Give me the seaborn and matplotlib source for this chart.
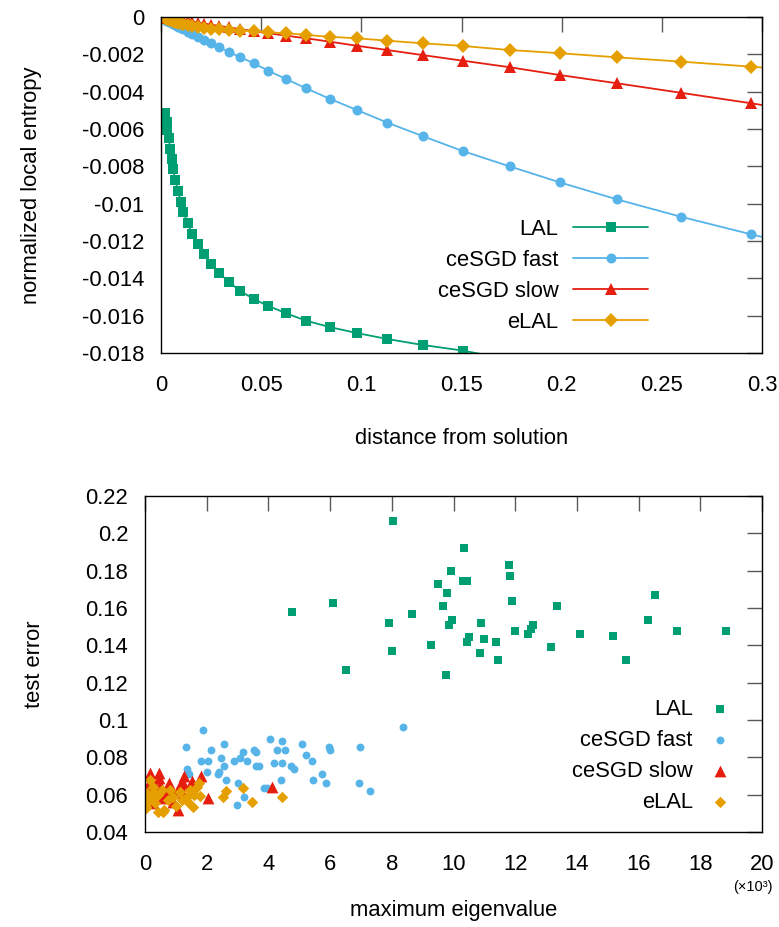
import numpy as np
import seaborn as sns
import matplotlib.pyplot as plt

# distances where the local entropy was evaluated (shared grid)
distancia = [0.0020, 0.0028, 0.0032, 0.0040, 0.0045, 0.0053, 0.0061, 0.0071, 0.0085,
             0.0098, 0.0111, 0.0135, 0.0155, 0.0183, 0.0213, 0.0250, 0.0291, 0.0341,
             0.0396, 0.0463, 0.0536, 0.0624, 0.0724, 0.0842, 0.0977, 0.1130, 0.1306,
             0.1506, 0.1740, 0.1991, 0.2276, 0.2595, 0.2945, 0.3340]

entropia_lal = [-0.00514, -0.00561, -0.00605, -0.00648, -0.00707, -0.00761, -0.00814,
                -0.00873, -0.00930, -0.00989, -0.01046, -0.01105, -0.01163, -0.01218,
                -0.01271, -0.01325, -0.01373, -0.01421, -0.01468, -0.01511, -0.01548,
                -0.01587, -0.01627, -0.01661, -0.01693, -0.01725, -0.01757, -0.01787,
                -0.01835]
entropia_fast = [-0.00015, -0.00019, -0.00021, -0.00025, -0.00028, -0.00032, -0.00037,
                 -0.00043, -0.00051, -0.00059, -0.00066, -0.00080, -0.00092, -0.00107,
                 -0.00123, -0.00141, -0.00162, -0.00188, -0.00216, -0.00248, -0.00288,
                 -0.00332, -0.00382, -0.00438, -0.00498, -0.00566, -0.00638, -0.00718,
                 -0.00800, -0.00886, -0.00977, -0.01070, -0.01164, -0.01265]
entropia_slow = [-0.00003, -0.00005, -0.00005, -0.00007, -0.00007, -0.00009, -0.00010,
                 -0.00012, -0.00014, -0.00016, -0.00018, -0.00022, -0.00025, -0.00030,
                 -0.00035, -0.00041, -0.00048, -0.00056, -0.00065, -0.00076, -0.00087,
                 -0.00100, -0.00114, -0.00132, -0.00154, -0.00177, -0.00204, -0.00234,
                 -0.00269, -0.00311, -0.00355, -0.00406, -0.00462, -0.00530]
entropia_elal = [-0.00005, -0.00008, -0.00010, -0.00013, -0.00015, -0.00018, -0.00021,
                 -0.00025, -0.00030, -0.00034, -0.00038, -0.00044, -0.00049, -0.00054,
                 -0.00058, -0.00062, -0.00066, -0.00070, -0.00073, -0.00075, -0.00082,
                 -0.00087, -0.00096, -0.00106, -0.00114, -0.00127, -0.00141, -0.00155,
                 -0.00177, -0.00194, -0.00216, -0.00239, -0.00266, -0.00300]

# scatter: maximum eigenvalue (x10^3) vs test error
eig_lal = [4.78, 6.09, 6.52, 7.90, 8.02, 8.04, 8.66, 9.28, 9.49, 9.65, 9.77, 9.80, 9.84,
           9.94, 9.93, 10.33, 10.32, 10.44, 10.44, 10.49, 10.86, 10.90, 10.99, 11.39,
           11.45, 11.79, 11.82, 11.91, 11.99, 12.59, 12.51, 12.42, 13.15, 13.35, 14.09,
           15.18, 15.58, 16.29, 16.53, 17.23, 18.84]
err_lal = [0.158, 0.1625, 0.127, 0.152, 0.137, 0.2068, 0.1566, 0.140, 0.1727, 0.161,
           0.124, 0.168, 0.1507, 0.1536, 0.180, 0.192, 0.1745, 0.1745, 0.142, 0.1446,
           0.136, 0.152, 0.1432, 0.142, 0.132, 0.183, 0.177, 0.164, 0.1477, 0.1507,
           0.149, 0.1462, 0.139, 0.161, 0.1462, 0.1449, 0.132, 0.1536, 0.167, 0.1477,
           0.1477]

eig_fast = [1.88, 1.32, 2.13, 2.57, 1.83, 2.04, 2.46, 2.57, 2.00, 2.37, 2.40, 2.63, 2.89,
            3.08, 3.18, 3.30, 3.53, 3.61, 3.59, 3.69, 4.05, 4.45, 4.27, 4.53, 4.17, 4.45,
            4.73, 4.83, 5.08, 5.21, 5.42, 5.95, 6.00, 5.74, 5.87, 5.46, 6.98, 6.94, 7.30,
            4.42, 3.02, 3.22, 2.98, 3.86, 3.97, 1.35, 1.43, 8.36]
err_fast = [0.0945, 0.0857, 0.0841, 0.0871, 0.0782, 0.0782, 0.0798, 0.0752, 0.0721,
            0.0711, 0.0723, 0.0679, 0.0782, 0.0798, 0.0827, 0.0782, 0.0841, 0.0827,
            0.0752, 0.0752, 0.0900, 0.0886, 0.0841, 0.0841, 0.0768, 0.0768, 0.0752,
            0.0738, 0.0871, 0.0812, 0.0782, 0.0857, 0.0841, 0.0709, 0.0664, 0.0679,
            0.0857, 0.0664, 0.0620, 0.0679, 0.0664, 0.0589, 0.0545, 0.0634, 0.0634,
            0.0738, 0.0711, 0.0961]

eig_slow = [0.16, 0.45, 0.45, 0.79, 1.27, 1.82, 1.51, 1.24, 2.05, 4.13, 1.08, 0.27, 0.05,
            0.49, 0.70, 0.92, 0.54, 0.02, 1.57, 1.24, 0.92, 0.22, 1.13]
err_slow = [0.0714, 0.0714, 0.0688, 0.0664, 0.0700, 0.0700, 0.0673, 0.0660, 0.0580,
            0.0640, 0.0518, 0.0554, 0.0643, 0.0652, 0.0607, 0.0562, 0.0580, 0.0610,
            0.0616, 0.0607, 0.0616, 0.0680, 0.0652]

eig_elal = [0.16, 0.27, 0.05, 0.02, 0.16, 0.43, 0.43, 0.57, 0.61, 0.54, 0.92, 1.02, 1.13,
            1.35, 1.46, 1.54, 1.67, 1.76, 1.78, 2.64, 2.54, 3.19, 3.48, 4.43, 1.40, 0.81,
            0.32, 0.02, 1.20, 0.76, 0.10, 0.30, 1.60]
err_elal = [0.0679, 0.0643, 0.0607, 0.0536, 0.0571, 0.0598, 0.0509, 0.0509, 0.0518,
            0.0625, 0.0589, 0.0539, 0.0616, 0.0589, 0.0625, 0.0536, 0.0643, 0.0660,
            0.0593, 0.0620, 0.0590, 0.0634, 0.0560, 0.0589, 0.0562, 0.0625, 0.0554,
            0.0527, 0.0571, 0.0571, 0.0580, 0.0610, 0.0600]

verde, azul, vermelho, laranja = "#009e73", "#56b4e9", "#e51e10", "#e69f00"

sns.set_style("white")
plt.rcParams['font.family'] = ['Liberation Sans', 'DejaVu Sans']
plt.rcParams['axes.unicode_minus'] = False
plt.rcParams['text.color'] = 'black'
plt.rcParams['axes.labelcolor'] = 'black'
fs = 15.8

fig = plt.figure(figsize=(7.79, 9.27), dpi=100)
ax1 = fig.add_axes([161/779, 1-353/927, 601/779, 336/927])
ax2 = fig.add_axes([145/779, 1-832/927, 617/779, 336/927])

# painel de cima: entropia local
sns.lineplot(x=distancia[:len(entropia_lal)], y=entropia_lal, ax=ax1, color=verde,
             marker="s", markersize=7, markeredgewidth=0, linewidth=1.3, label="LAL")
sns.lineplot(x=distancia, y=entropia_fast, ax=ax1, color=azul, marker="o",
             markersize=7.2, markeredgewidth=0, linewidth=1.3, label="ceSGD fast")
sns.lineplot(x=distancia, y=entropia_slow, ax=ax1, color=vermelho, marker="^",
             markersize=9, markeredgewidth=0, linewidth=1.3, label="ceSGD slow")
sns.lineplot(x=distancia, y=entropia_elal, ax=ax1, color=laranja, marker="D",
             markersize=7.3, markeredgewidth=0, linewidth=1.3, label="eLAL")
ax1.set_xlim(0, 0.3)
ax1.set_ylim(-0.018, 0)
ax1.set_xticks(np.arange(0, 0.301, 0.05))
ax1.set_yticks(np.arange(-0.018, 0.0001, 0.002))
ax1.set_xticklabels([f"{v:g}" for v in np.round(np.arange(0, 0.301, 0.05), 3)])
ax1.set_yticklabels([f"{v:g}" if abs(v) > 1e-9 else "0"
                     for v in np.round(np.arange(-0.018, 0.0001, 0.002), 3)])
ax1.set_xlabel("distance from solution", fontsize=fs, labelpad=23)
ax1.set_ylabel("normalized local entropy", fontsize=fs, labelpad=29)
ax1.legend(loc="upper right", bbox_to_anchor=(0.81, 0.399), frameon=False,
           markerfirst=False, handlelength=3.4, handletextpad=0.68,
           labelspacing=0.45, borderpad=0, borderaxespad=0, fontsize=fs)

# painel de baixo: dispersão
sns.scatterplot(x=eig_lal, y=err_lal, ax=ax2, color=verde, marker="s", s=30,
                linewidth=0, label="LAL")
sns.scatterplot(x=eig_fast, y=err_fast, ax=ax2, color=azul, marker="o", s=32,
                linewidth=0, label="ceSGD fast")
sns.scatterplot(x=eig_slow, y=err_slow, ax=ax2, color=vermelho, marker="^", s=72,
                linewidth=0, label="ceSGD slow")
sns.scatterplot(x=eig_elal, y=err_elal, ax=ax2, color=laranja, marker="D", s=34,
                linewidth=0, label="eLAL")
ax2.set_xlim(0, 20)
ax2.set_ylim(0.04, 0.22)
ax2.set_xticks(np.arange(0, 21, 2))
ax2.set_yticks(np.arange(0.04, 0.2201, 0.02))
ax2.set_yticklabels([f"{v:g}" for v in np.round(np.arange(0.04, 0.2201, 0.02), 2)])
ax2.set_xlabel("maximum eigenvalue", fontsize=fs, labelpad=18)
ax2.set_ylabel("test error", fontsize=fs, labelpad=29)
ax2.legend(loc="upper right", bbox_to_anchor=(0.951, 0.396), frameon=False,
           markerfirst=False, handlelength=1.1, handletextpad=0.68,
           labelspacing=0.45, borderpad=0, borderaxespad=0, fontsize=fs)
fig.text(753/779, 1-887/927, "(×10³)", fontsize=10.5, ha="center", va="center")

for ax in (ax1, ax2):
    ax.tick_params(direction="in", length=11, width=1, color="0.35", labelsize=fs,
                   labelcolor="black", top=True, right=True, pad=12)
    ax.tick_params(axis="x", pad=16)
    for sp in ax.spines.values():
        sp.set_color("black")
        sp.set_linewidth(1)

fig.savefig("out.png", dpi=100)
